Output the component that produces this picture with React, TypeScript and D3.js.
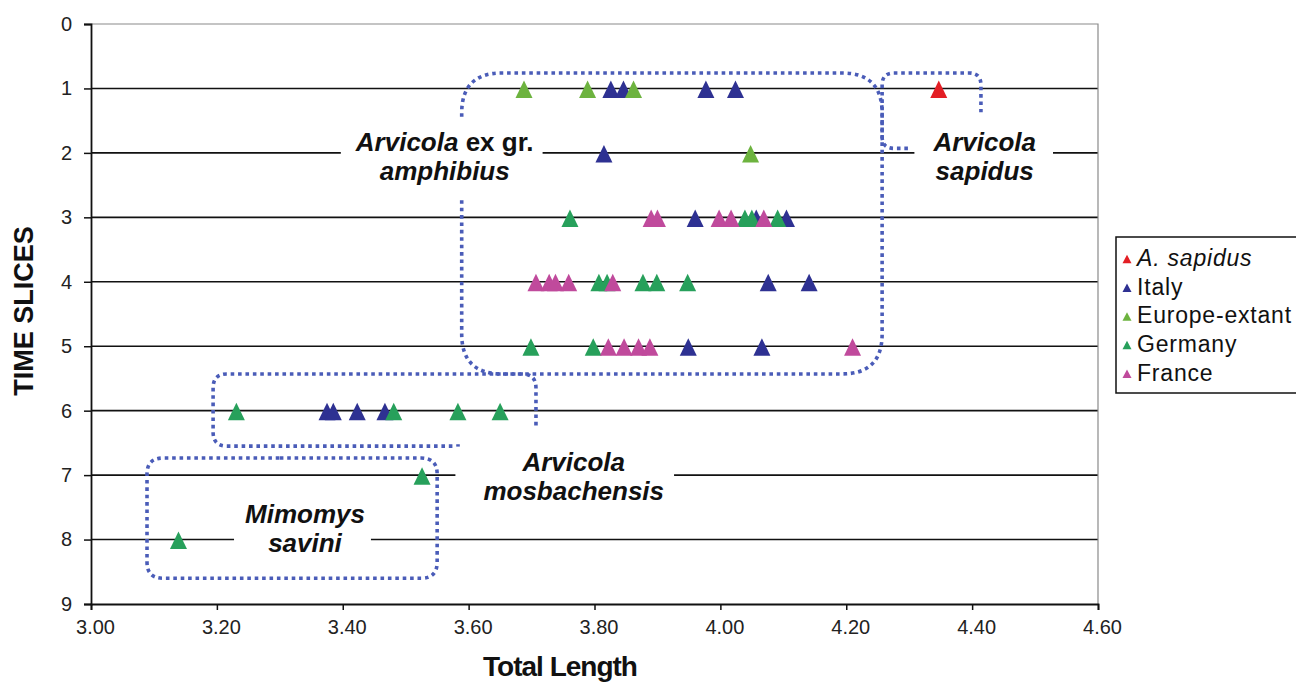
import * as d3 from "d3";
import { useEffect, useRef } from "react";

// [total length, time slice]
const sapidus: [number, number][] = [[4.347, 1]];
const italy: [number, number][] = [
  [3.826, 1], [3.846, 1], [3.977, 1], [4.024, 1],
  [3.815, 2],
  [3.96, 3], [4.057, 3], [4.105, 3],
  [4.076, 4], [4.141, 4],
  [3.949, 5], [4.066, 5],
  [3.375, 6], [3.385, 6], [3.423, 6], [3.467, 6],
];
const europeExtant: [number, number][] = [
  [3.688, 1], [3.789, 1], [3.862, 1],
  [4.048, 2],
];
const germany: [number, number][] = [
  [3.761, 3], [4.039, 3], [4.05, 3], [4.091, 3],
  [3.807, 4], [3.82, 4], [3.877, 4], [3.899, 4], [3.948, 4],
  [3.699, 5], [3.798, 5],
  [3.231, 6], [3.481, 6], [3.583, 6], [3.65, 6],
  [3.526, 7],
  [3.139, 8],
];
const france: [number, number][] = [
  [3.89, 3], [3.9, 3], [3.998, 3], [4.017, 3], [4.069, 3],
  [3.707, 4], [3.728, 4], [3.738, 4], [3.759, 4], [3.829, 4],
  [3.822, 5], [3.847, 5], [3.87, 5], [3.888, 5], [4.21, 5],
];

const seriesNames = ["A. sapidus", "Italy", "Europe-extant", "Germany", "France"];
const seriesColors = ["#e31e24", "#2e3192", "#6db33f", "#27a05b", "#c04a9c"];
const seriesData = [sapidus, italy, europeExtant, germany, france];

const xTicks = [3.0, 3.2, 3.4, 3.6, 3.8, 4.0, 4.2, 4.4, 4.6];
const yTicks = [0, 1, 2, 3, 4, 5, 6, 7, 8, 9];

// dotted group outlines, in data units
const outlines: [number, number][][] = [
  // A. ex gr. amphibius
  [[3.589, 1.44], [3.589, 0.76], [4.257, 0.76], [4.257, 5.43], [3.589, 5.43], [3.589, 2.68]],
  // A. sapidus
  [[4.298, 1.93], [4.257, 1.93], [4.257, 0.76], [4.414, 0.76], [4.414, 1.37]],
  // A. mosbachensis
  [[3.586, 6.55], [3.194, 6.55], [3.194, 5.43], [3.707, 5.43], [3.707, 6.27]],
  // Mimomys savini
  [[3.3, 6.735], [3.55, 6.735], [3.55, 8.6], [3.089, 8.6], [3.089, 6.735], [3.3, 6.735]],
];
const outlineRadius = [40, 12, 14, 16];

type Seg = [string, boolean];
const groupLabels: { lines: Seg[][]; x: number; y: number; pad: [number, number] }[] = [
  { lines: [[["Arvicola", true], [" ex gr.", false]], [["amphibius", true]]], x: 3.562, y: 1.97, pad: [14, 9] },
  { lines: [[["Arvicola", true]], [["sapidus", true]]], x: 4.42, y: 1.97, pad: [18, 17] },
  { lines: [[["Arvicola", true]], [["mosbachensis", true]]], x: 3.767, y: 6.93, pad: [28, 10] },
  { lines: [[["Mimomys", true]], [["savini", true]]], x: 3.34, y: 7.74, pad: [11, 6] },
];

const font = "'Liberation Sans', Arial, sans-serif";

function roundedPath(pts: [number, number][], r: number) {
  let d = `M${pts[0][0]},${pts[0][1]}`;
  for (let i = 1; i < pts.length - 1; i++) {
    const [px, py] = pts[i - 1];
    const [cx, cy] = pts[i];
    const [nx, ny] = pts[i + 1];
    const l1 = Math.hypot(cx - px, cy - py);
    const l2 = Math.hypot(nx - cx, ny - cy);
    const r1 = Math.min(r, l1);
    const r2 = Math.min(r, l2);
    d += `L${cx - ((cx - px) / l1) * r1},${cy - ((cy - py) / l1) * r1}`;
    d += `Q${cx},${cy} ${cx + ((nx - cx) / l2) * r2},${cy + ((ny - cy) / l2) * r2}`;
  }
  const last = pts[pts.length - 1];
  return d + `L${last[0]},${last[1]}`;
}

// Excel-like triangle marker, a bit taller than equilateral
const tallTriangle = (w: number, h: number) => ({
  draw(ctx: d3.Path) {
    ctx.moveTo(0, -h / 2);
    ctx.lineTo(w / 2, h / 2);
    ctx.lineTo(-w / 2, h / 2);
    ctx.closePath();
  },
});

export default function App() {
  const svgRef = useRef<SVGSVGElement | null>(null);

  useEffect(() => {
    if (!svgRef.current) return;
    const svg = d3.select(svgRef.current);
    svg.selectAll("*").remove();

    const width = 1296;
    const height = 684;
    const margin = { top: 24, right: 198, bottom: 80, left: 91 };

    const x = d3.scaleLinear().domain([3, 4.6]).range([margin.left, width - margin.right]);
    const y = d3.scaleLinear().domain([0, 9]).range([margin.top, height - margin.bottom]);

    svg.attr("width", width).attr("height", height).attr("viewBox", `0 0 ${width} ${height}`);
    svg.append("rect").attr("width", width).attr("height", height).attr("fill", "#fff");

    // Grid lines
    svg
      .append("g")
      .selectAll("line")
      .data(yTicks.filter((t) => t > 0 && t < 9))
      .join("line")
      .attr("x1", x(3))
      .attr("x2", x(4.6))
      .attr("y1", (d) => y(d))
      .attr("y2", (d) => y(d))
      .attr("stroke", "#111")
      .attr("stroke-width", 1.6);

    // plot frame: grey top/right, black axes
    svg
      .append("path")
      .attr("d", `M${x(3)},${y(0)}H${x(4.6)}V${y(9)}`)
      .attr("fill", "none")
      .attr("stroke", "#8a8a8a")
      .attr("stroke-width", 1.2);

    const yAxis = svg
      .append("g")
      .attr("transform", `translate(${x(3)},0)`)
      .call(d3.axisLeft(y).tickValues(yTicks).tickSize(7).tickPadding(12).tickFormat(d3.format("d")));
    const xAxis = svg
      .append("g")
      .attr("transform", `translate(0,${y(9)})`)
      .call(d3.axisBottom(x).tickValues(xTicks).tickSize(6).tickPadding(10).tickFormat(d3.format(".2f")));
    [yAxis, xAxis].forEach((g) => {
      g.select(".domain").attr("stroke", "#111").attr("stroke-width", 1.8);
      g.selectAll(".tick line").attr("stroke", "#111").attr("stroke-width", 1.5);
      g.selectAll(".tick text")
        .attr("fill", "#222")
        .style("font-family", font)
        .style("font-size", "20px");
    });
    xAxis.selectAll(".tick text").attr("dx", 4);

    // Group labels: white backing over the grid lines
    const labelG = svg.append("g");
    const labelNodes = groupLabels.map((lab) => {
      const g = labelG.append("g");
      const rect = g.append("rect").attr("fill", "#fff");
      const t = g
        .append("text")
        .attr("text-anchor", "middle")
        .attr("fill", "#111")
        .style("font-family", font)
        .style("font-size", "26px")
        .style("font-weight", "bold");
      lab.lines.forEach((segs, i) => {
        segs.forEach(([s, it], j) => {
          const ts = t.append("tspan").text(s).style("font-style", it ? "italic" : "normal");
          if (j === 0) ts.attr("x", x(lab.x)).attr("y", y(lab.y) + i * 29);
        });
      });
      return { lab, rect, t };
    });
    labelNodes.forEach(({ lab, rect, t }) => {
      const bb = (t.node() as SVGTextElement).getBBox();
      rect
        .attr("x", bb.x - lab.pad[0])
        .attr("y", bb.y)
        .attr("width", bb.width + lab.pad[0] + lab.pad[1])
        .attr("height", bb.height);
    });

    // dotted outlines
    svg
      .append("g")
      .selectAll("path")
      .data(outlines)
      .join("path")
      .attr("d", (pts, i) =>
        roundedPath(pts.map(([a, b]) => [x(a), y(b)] as [number, number]), outlineRadius[i]),
      )
      .attr("fill", "none")
      .attr("stroke", "#4a5cb8")
      .attr("stroke-width", 3.6)
      .attr("stroke-dasharray", "3.6 3.8");

    labelG.raise();

    // Markers
    const marker = d3.symbol().type(tallTriangle(17, 17.5) as any);
    seriesData.forEach((data, si) => {
      svg
        .append("g")
        .selectAll("path")
        .data(data)
        .join("path")
        .attr("transform", (d) => `translate(${x(d[0])},${y(d[1]) + 0.8})`)
        .attr("d", marker()!)
        .attr("fill", seriesColors[si]);
    });

    // Axis titles
    svg
      .append("text")
      .attr("transform", `translate(33,311) rotate(-90)`)
      .attr("text-anchor", "middle")
      .attr("fill", "#111")
      .style("font-family", font)
      .style("font-size", "27px")
      .style("font-weight", "bold")
      .text("TIME SLICES");
    svg
      .append("text")
      .attr("x", 560)
      .attr("y", 676)
      .attr("text-anchor", "middle")
      .attr("fill", "#111")
      .attr("letter-spacing", "-1")
      .style("font-family", font)
      .style("font-size", "28px")
      .style("font-weight", "bold")
      .text("Total Length");

    // Legend
    const legend = svg.append("g").attr("transform", "translate(1116,237)");
    legend
      .append("rect")
      .attr("width", 200)
      .attr("height", 156)
      .attr("fill", "#fff")
      .attr("stroke", "#111")
      .attr("stroke-width", 1.5);
    const legMarker = d3.symbol().type(tallTriangle(9, 8.5) as any);
    const item = legend
      .selectAll("g.item")
      .data(seriesNames)
      .join("g")
      .attr("class", "item")
      .attr("transform", (_, i) => `translate(0,${21 + i * 28.7})`);
    item
      .append("path")
      .attr("transform", "translate(11,1)")
      .attr("d", legMarker()!)
      .attr("fill", (_, i) => seriesColors[i]);
    item
      .append("text")
      .attr("x", 21)
      .attr("dy", "0.35em")
      .attr("fill", "#111")
      .attr("letter-spacing", "0.8")
      .style("font-family", font)
      .style("font-size", "23px")
      .style("font-style", (_, i) => (i === 0 ? "italic" : "normal"))
      .text((d) => d);
  }, []);

  return (
    <svg
      ref={svgRef}
      style={{ position: "absolute", left: 0, top: 0, display: "block" }}
    ></svg>
  );
}
